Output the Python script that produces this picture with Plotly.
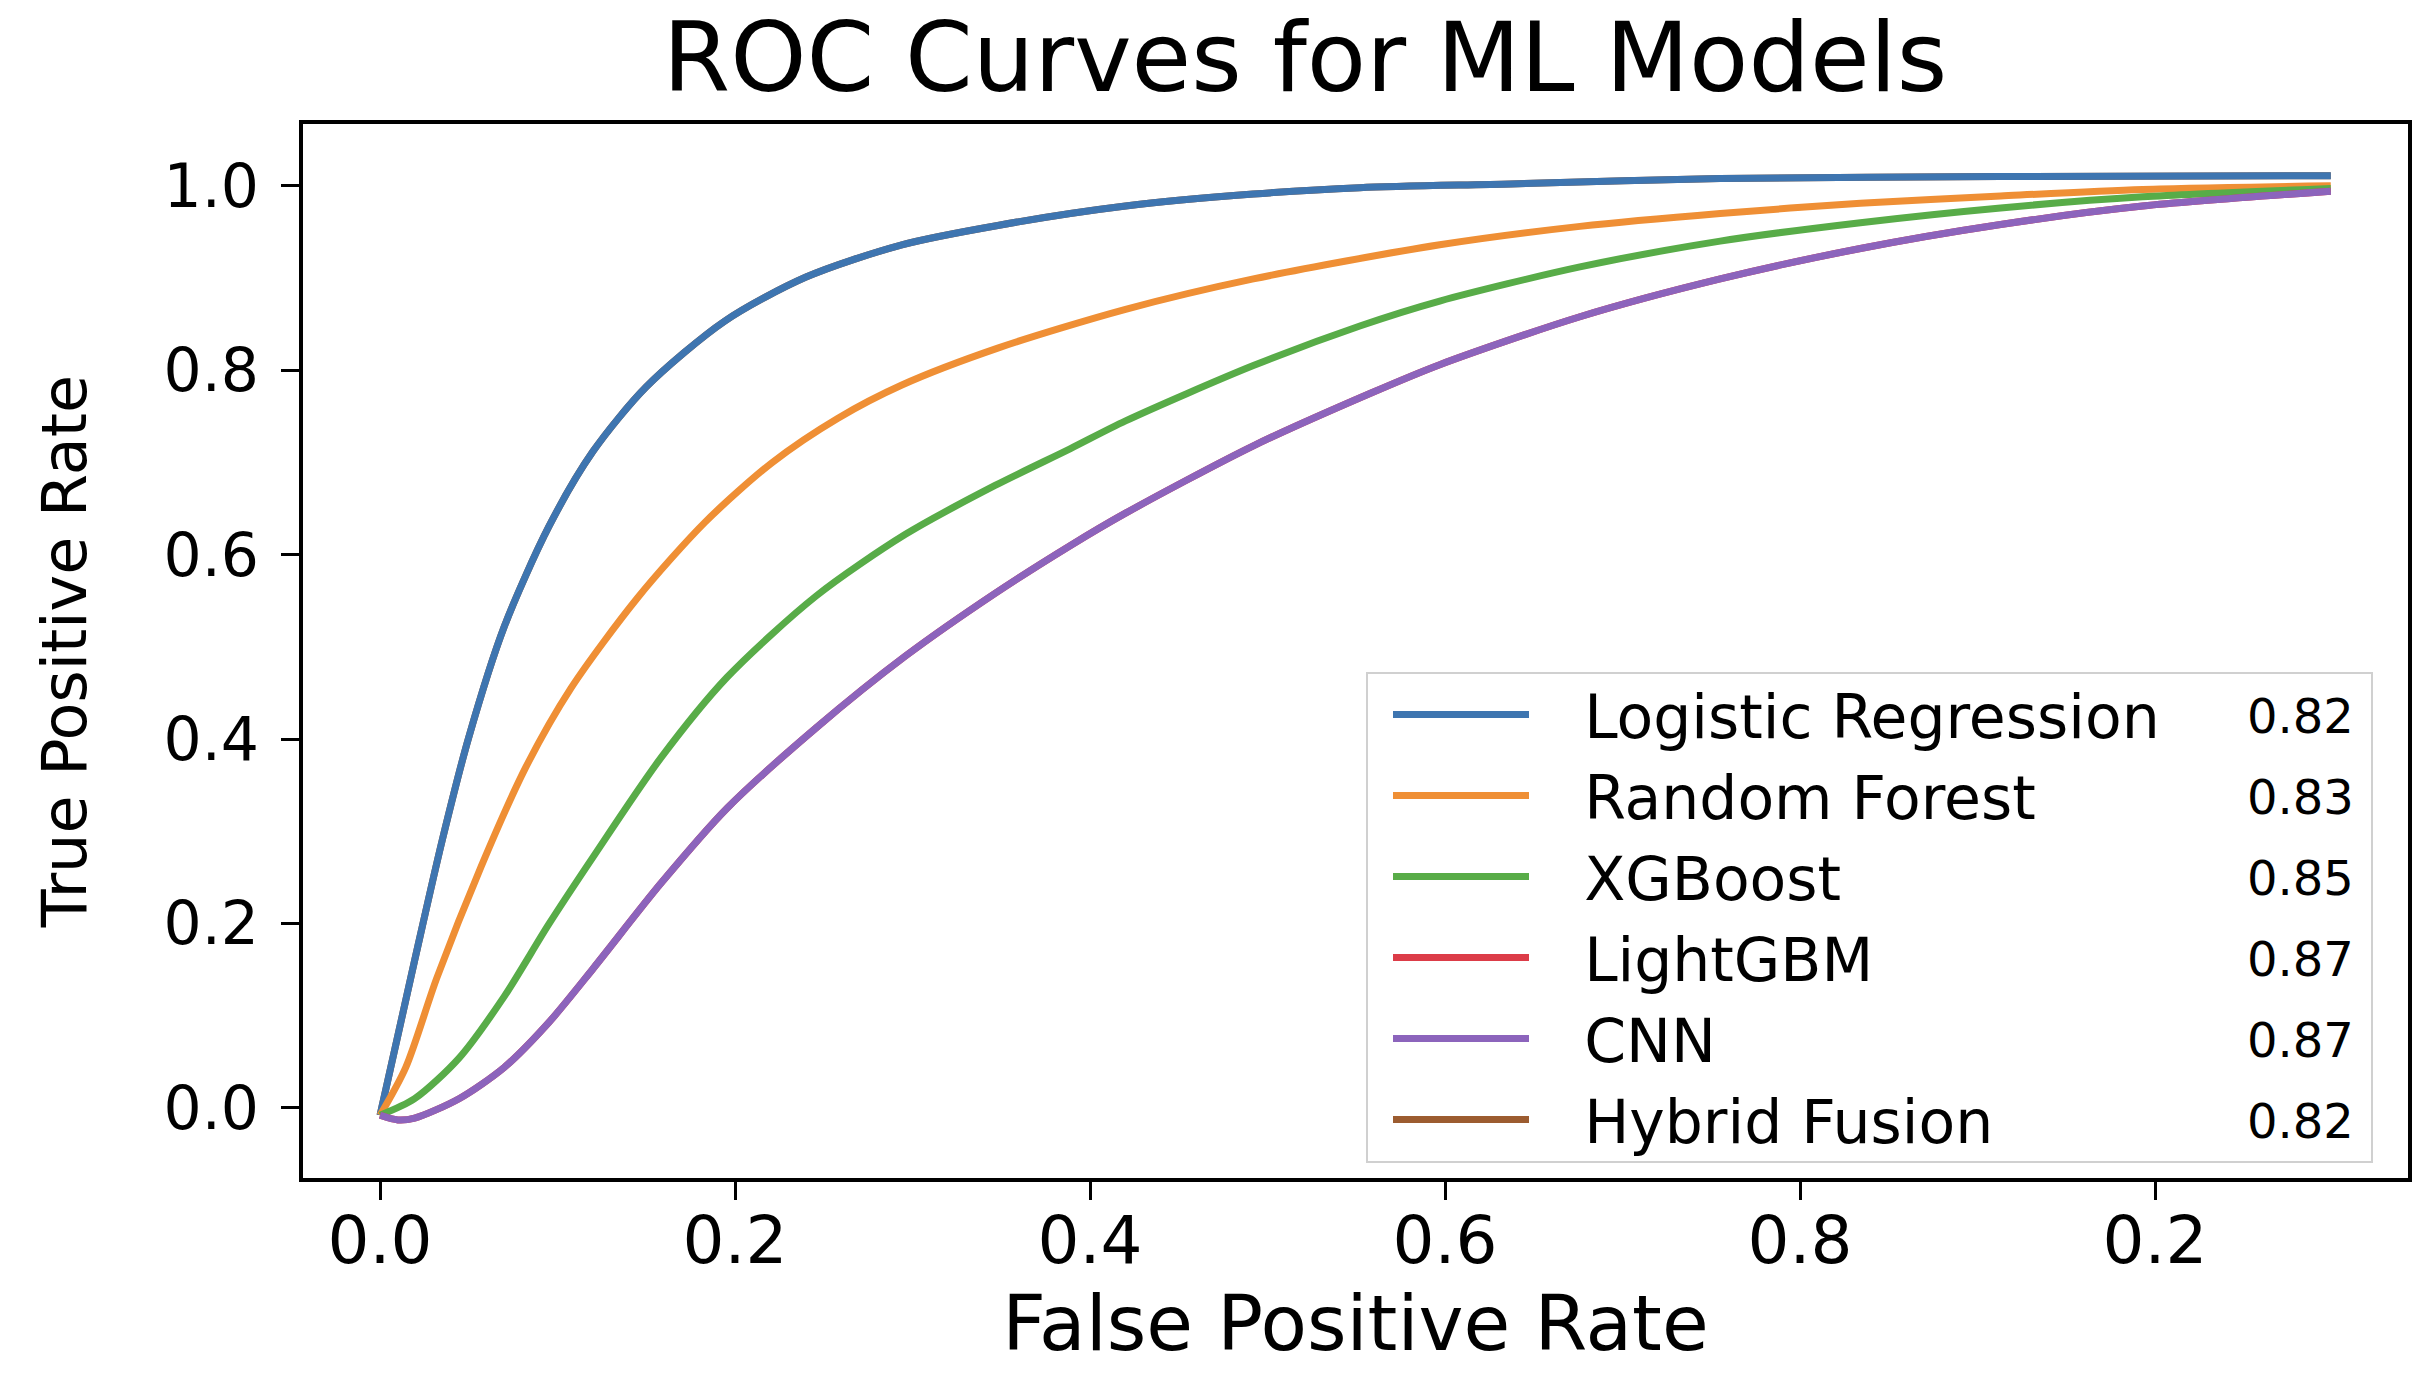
import plotly.graph_objects as go

# ---------------- data ----------------
models = ["Logistic Regression", "Random Forest", "XGBoost", "LightGBM", "CNN", "Hybrid Fusion"]
auc_values = ["0.82", "0.83", "0.85", "0.87", "0.87", "0.82"]
colors = ["#3e75b0", "#ef8f35", "#58ac48", "#dc3c48", "#8c64bc", "#9c5c30"]

lr_fpr = [0.0, 0.0195, 0.035, 0.050, 0.070, 0.095, 0.120, 0.150, 0.194, 0.240, 0.294, 0.348, 0.420, 0.492, 0.552, 0.637, 0.755, 0.913, 1.099]
lr_tpr = [-0.008, 0.160, 0.290, 0.402, 0.522, 0.630, 0.712, 0.782, 0.853, 0.901, 0.936, 0.957, 0.978, 0.991, 0.998, 1.002, 1.008, 1.010, 1.011]

rf_fpr = [0.0, 0.0145, 0.032, 0.057, 0.082, 0.1075, 0.145, 0.183, 0.221, 0.258, 0.294, 0.348, 0.420, 0.492, 0.597, 0.676, 0.755, 0.834, 0.913, 0.993, 1.099]
rf_tpr = [-0.008, 0.044, 0.141, 0.262, 0.369, 0.455, 0.553, 0.635, 0.700, 0.748, 0.784, 0.824, 0.866, 0.899, 0.936, 0.956, 0.970, 0.981, 0.989, 0.996, 1.000]

xgb_fpr = [0.0, 0.0195, 0.0445, 0.070, 0.095, 0.120, 0.158, 0.1955, 0.2456, 0.296, 0.3465, 0.389, 0.420, 0.492, 0.552, 0.597, 0.676, 0.755, 0.834, 0.913, 0.993, 1.099]
xgb_tpr = [-0.008, 0.010, 0.054, 0.121, 0.199, 0.272, 0.379, 0.467, 0.555, 0.622, 0.675, 0.715, 0.745, 0.805, 0.848, 0.875, 0.912, 0.940, 0.960, 0.976, 0.988, 0.997]

cnn_fpr = [0.0, 0.010, 0.0195, 0.0445, 0.070, 0.095, 0.120, 0.158, 0.1955, 0.2456, 0.296, 0.3465, 0.389, 0.420, 0.492, 0.558, 0.597, 0.676, 0.755, 0.834, 0.913, 0.993, 1.099]
cnn_tpr = [-0.008, -0.013, -0.011, 0.010, 0.044, 0.0925, 0.151, 0.243, 0.325, 0.412, 0.490, 0.558, 0.610, 0.645, 0.718, 0.775, 0.806, 0.858, 0.899, 0.932, 0.958, 0.978, 0.994]

# LightGBM and Hybrid Fusion are hidden beneath CNN and Logistic Regression in the reference
lgbm_fpr = cnn_fpr
lgbm_tpr = cnn_tpr
hybrid_fpr = lr_fpr
hybrid_tpr = lr_tpr

x_tick_vals = [0.0, 0.2, 0.4, 0.6, 0.8, 1.0]
x_tick_text = ["0.0", "0.2", "0.4", "0.6", "0.8", "0.2"]
y_tick_vals = [0.0, 0.2, 0.4, 0.6, 0.8, 1.0]
y_tick_text = ["0.0", "0.2", "0.4", "0.6", "0.8", "1.0"]

series_x = [lr_fpr, rf_fpr, xgb_fpr, lgbm_fpr, cnn_fpr, hybrid_fpr]
series_y = [lr_tpr, rf_tpr, xgb_tpr, lgbm_tpr, cnn_tpr, hybrid_tpr]

# ---------------- figure ----------------
W, H = 2436, 1384
ML, MR, MT, MB = 303, 28, 124, 206
PW, PH = W - ML - MR, H - MT - MB
FONT = "DejaVu Sans"
LEGEND_GAP = "\u00a0\u00a0\u2009"  # spacing between legend line sample and its label

def px_to_paper_x(px):
    return (px - ML) / PW

def px_to_paper_y(py):
    return (H - MB - py) / PH

fig = go.Figure()
# draw order: Hybrid Fusion first (underneath), then the others in matplotlib order
draw_order = [5, 0, 1, 2, 3, 4]
for i in draw_order:
    fig.add_trace(go.Scatter(
        x=series_x[i], y=series_y[i], mode="lines", name=LEGEND_GAP + models[i],
        line=dict(color=colors[i], width=7, shape="spline", smoothing=0.8),
        legendrank=i + 1,
    ))

# legend frame
box_l, box_r, box_t, box_b = 1367, 2372, 673, 1162
fig.add_shape(type="rect", xref="paper", yref="paper",
              x0=px_to_paper_x(box_l), x1=px_to_paper_x(box_r),
              y0=px_to_paper_y(box_b), y1=px_to_paper_y(box_t),
              line=dict(color="#d0d0d0", width=2), fillcolor="white", layer="above")

# AUC values beside legend rows
row0, row_step = 716, 81
for k, val in enumerate(auc_values):
    fig.add_annotation(xref="paper", yref="paper", x=px_to_paper_x(2356),
                       y=px_to_paper_y(row0 + k * row_step), xanchor="right", yanchor="middle",
                       text=val, showarrow=False, font=dict(family=FONT, size=48, color="black"))

fig.update_layout(
    width=W, height=H,
    margin=dict(l=ML, r=MR, t=MT, b=MB, pad=0),
    paper_bgcolor="white", plot_bgcolor="white",
    title=dict(text="ROC Curves for ML Models", x=1305 / W, xref="container", xanchor="center",
               y=1 - 57 / H, yref="container", yanchor="middle",
               font=dict(family=FONT, size=97, color="black")),
    legend=dict(x=px_to_paper_x(box_l + 21), y=px_to_paper_y(box_t - 4), xanchor="left", yanchor="top",
                bgcolor="rgba(0,0,0,0)", borderwidth=0, itemwidth=136,
                font=dict(family=FONT, size=60, color="black"), tracegroupgap=0),
    showlegend=True,
)

fig.update_xaxes(range=[-0.0434, 1.1425], tickmode="array", tickvals=x_tick_vals, ticktext=x_tick_text,
                 showgrid=False, zeroline=False, showline=True, linecolor="black", linewidth=4,
                 mirror=True, ticks="outside", ticklen=18, tickwidth=3, tickcolor="black",
                 tickfont=dict(family=FONT, size=66, color="black"), automargin=False, ticklabelstandoff=-16,
                 title=dict(text="False Positive Rate", font=dict(family=FONT, size=76, color="black"), standoff=0))
fig.update_yaxes(range=[-0.076, 1.067], tickmode="array", tickvals=y_tick_vals, ticktext=y_tick_text,
                 showgrid=False, zeroline=False, showline=True, linecolor="black", linewidth=4,
                 mirror=True, ticks="outside", ticklen=18, tickwidth=3, tickcolor="black",
                 tickfont=dict(family=FONT, size=60, color="black"), automargin=False, ticklabelstandoff=10,
                 title=dict(text="True Positive Rate", font=dict(family=FONT, size=62, color="black"), standoff=58))

fig.write_html("out.html", config={"displayModeBar": False},
               post_script="document.body.style.margin='0';document.body.style.overflow='hidden';")
